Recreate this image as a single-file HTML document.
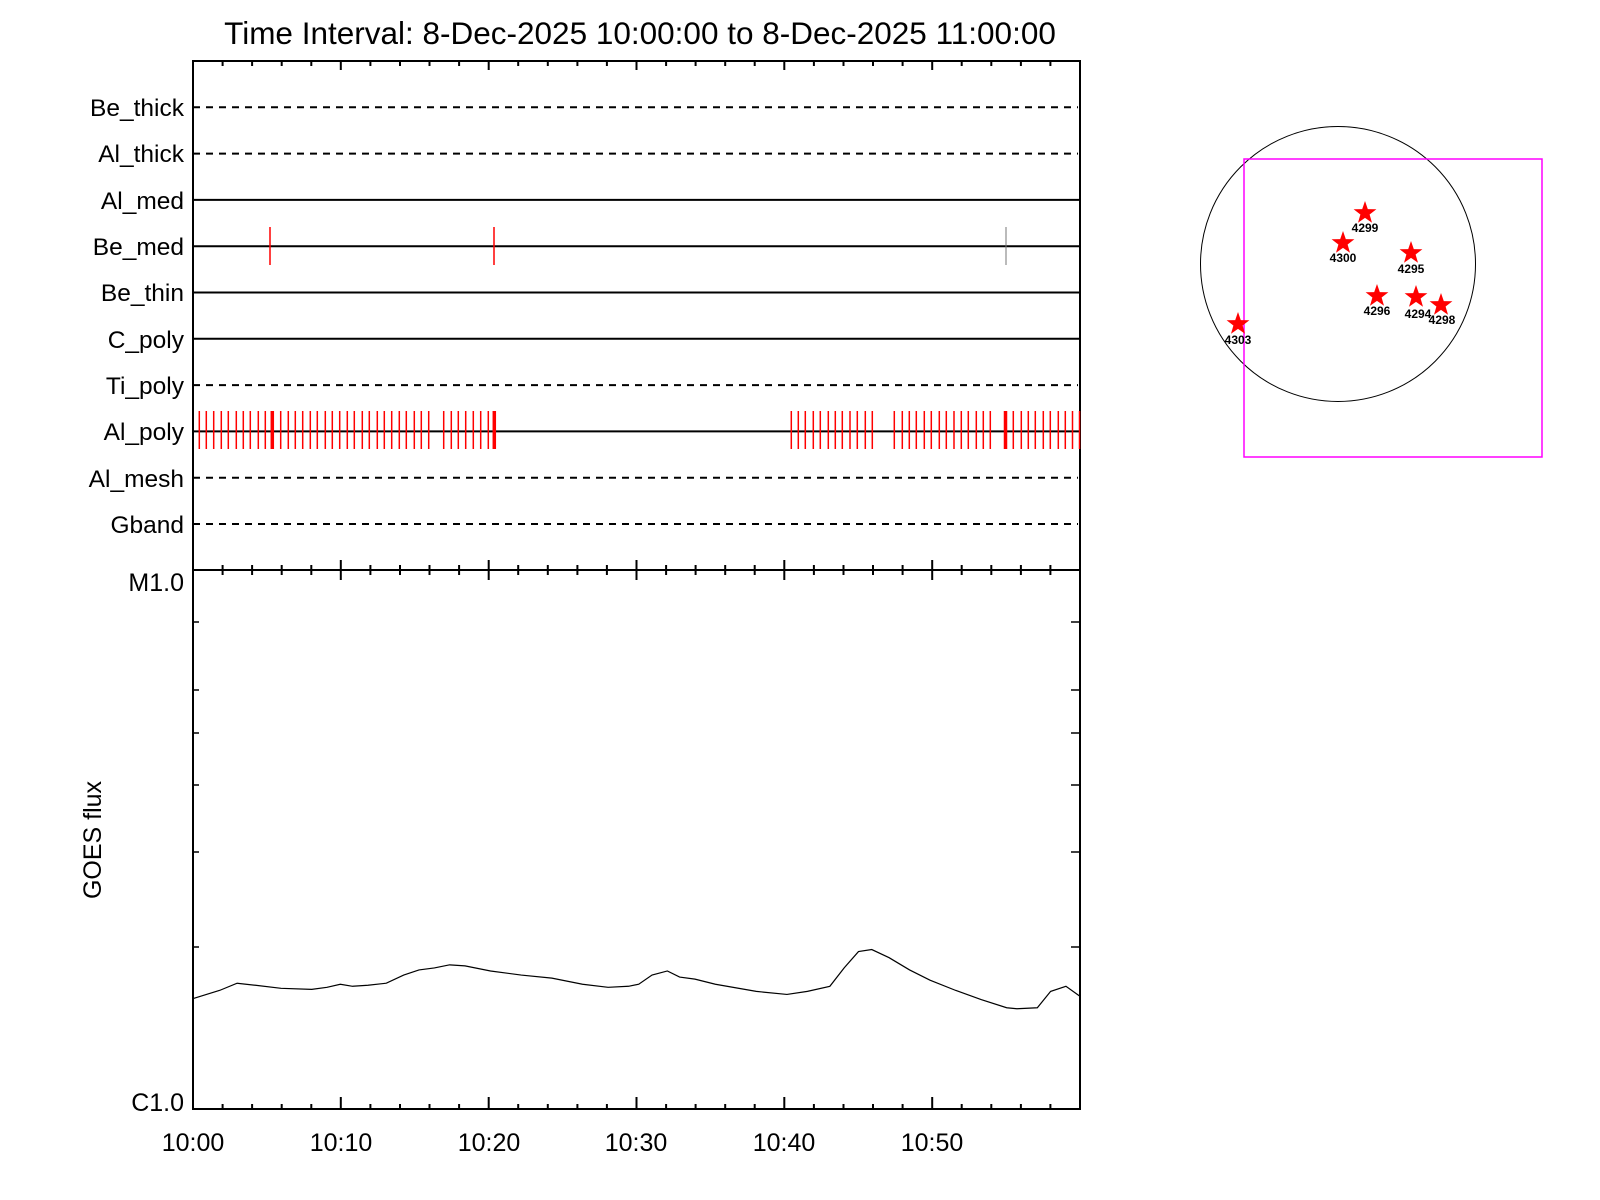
<!DOCTYPE html>
<html><head><meta charset="utf-8"><style>
html,body{margin:0;padding:0;background:#fff;width:1600px;height:1200px;overflow:hidden}
text{font-family:"Liberation Sans",Arial,sans-serif;fill:#000}
</style></head><body>
<svg width="1600" height="1200" viewBox="0 0 1600 1200" xmlns="http://www.w3.org/2000/svg">
<text x="640" y="44" font-size="31.5" text-anchor="middle">Time Interval:  8-Dec-2025 10:00:00 to  8-Dec-2025 11:00:00</text>
<g stroke="#000" stroke-width="2" fill="none">
<rect x="193" y="61" width="887" height="1048"/>
<line x1="193" y1="570" x2="1080" y2="570"/>
</g>
<g stroke="#000" stroke-width="2">
<line x1="193" y1="107.3" x2="1078" y2="107.3" stroke-dasharray="7,6"/>
<line x1="193" y1="153.6" x2="1078" y2="153.6" stroke-dasharray="7,6"/>
<line x1="193" y1="199.9" x2="1080" y2="199.9"/>
<line x1="193" y1="246.2" x2="1080" y2="246.2"/>
<line x1="193" y1="292.5" x2="1080" y2="292.5"/>
<line x1="193" y1="338.8" x2="1080" y2="338.8"/>
<line x1="193" y1="385.1" x2="1078" y2="385.1" stroke-dasharray="7,6"/>
<line x1="193" y1="431.4" x2="1080" y2="431.4"/>
<line x1="193" y1="477.7" x2="1078" y2="477.7" stroke-dasharray="7,6"/>
<line x1="193" y1="524" x2="1078" y2="524" stroke-dasharray="7,6"/>
</g>
<g font-size="24.5" text-anchor="end">
<text x="184" y="116">Be_thick</text>
<text x="184" y="162">Al_thick</text>
<text x="184" y="209">Al_med</text>
<text x="184" y="255">Be_med</text>
<text x="184" y="301">Be_thin</text>
<text x="184" y="348">C_poly</text>
<text x="184" y="394">Ti_poly</text>
<text x="184" y="440">Al_poly</text>
<text x="184" y="487">Al_mesh</text>
<text x="184" y="533">Gband</text>
</g>
<g stroke="#f00" stroke-width="1.5">
<line x1="270" y1="227" x2="270" y2="265"/><line x1="494" y1="227" x2="494" y2="265"/>
</g>
<line x1="1006" y1="227" x2="1006" y2="265" stroke="#777" stroke-width="1"/>
<g stroke="#f00" stroke-width="1.5">
<path d="M199.3 411V449M206.3 411V449M213.7 411V449M221.3 411V449M228.3 411V449M236.3 411V449M243.3 411V449M250.3 411V449M258.3 411V449M265.3 411V449M280.7 411V449M288.3 411V449M295.3 411V449M302.7 411V449M310.3 411V449M317.3 411V449M325.3 411V449M332.3 411V449M339.7 411V449M347.3 411V449M354.3 411V449M362.3 411V449M369.3 411V449M377.3 411V449M384.3 411V449M391.7 411V449M399.3 411V449M406.3 411V449M414.3 411V449M421.3 411V449M428.7 411V449M443.7 411V449M451.3 411V449M458.3 411V449M465.7 411V449M473.3 411V449M480.7 411V449M488.3 411V449"/>
<path d="M791.3 411V449M798.3 411V449M805.3 411V449M813.3 411V449M820.3 411V449M828.3 411V449M835.3 411V449M842.3 411V449M850 411V449M857.3 411V449M865.3 411V449M872.3 411V449M894.3 411V449M902.3 411V449M909.3 411V449M916.3 411V449M924.3 411V449M931.3 411V449M939.3 411V449M946.3 411V449M954 411V449M961.3 411V449M968.3 411V449M976.3 411V449M983.3 411V449M990.3 411V449M1013.3 411V449M1021.3 411V449M1028.3 411V449M1035.3 411V449M1043.3 411V449M1050.3 411V449M1058.3 411V449M1065.3 411V449M1072.5 411V449M1079.5 411V449"/>
</g>
<g stroke="#f00" stroke-width="3.5"><path d="M272.3 411V449M494.3 411V449M1005.5 411V449"/></g>
<g stroke="#000" stroke-width="2">
<path d="M193 61v9M340.8 61v9M488.7 61v9M636.5 61v9M784.3 61v9M932.2 61v9"/>
<path d="M193 560v20M340.8 560v20M488.7 560v20M636.5 560v20M784.3 560v20M932.2 560v20"/>
<path d="M340.8 1109v-12M488.7 1109v-12M636.5 1109v-12M784.3 1109v-12M932.2 1109v-12"/>
</g>
<g stroke="#000" stroke-width="2">
<path d="M222.6 61v5M252.1 61v5M281.7 61v5M311.3 61v5M370.4 61v5M400 61v5M429.5 61v5M459.1 61v5M518.2 61v5M547.8 61v5M577.4 61v5M606.9 61v5M666.1 61v5M695.6 61v5M725.2 61v5M754.7 61v5M813.9 61v5M843.5 61v5M873 61v5M902.6 61v5M961.7 61v5M991.3 61v5M1020.9 61v5M1050.4 61v5"/>
<path d="M222.6 565v10M252.1 565v10M281.7 565v10M311.3 565v10M370.4 565v10M400 565v10M429.5 565v10M459.1 565v10M518.2 565v10M547.8 565v10M577.4 565v10M606.9 565v10M666.1 565v10M695.6 565v10M725.2 565v10M754.7 565v10M813.9 565v10M843.5 565v10M873 565v10M902.6 565v10M961.7 565v10M991.3 565v10M1020.9 565v10M1050.4 565v10"/>
<path d="M222.6 1109v-5M252.1 1109v-5M281.7 1109v-5M311.3 1109v-5M370.4 1109v-5M400 1109v-5M429.5 1109v-5M459.1 1109v-5M518.2 1109v-5M547.8 1109v-5M577.4 1109v-5M606.9 1109v-5M666.1 1109v-5M695.6 1109v-5M725.2 1109v-5M754.7 1109v-5M813.9 1109v-5M843.5 1109v-5M873 1109v-5M902.6 1109v-5M961.7 1109v-5M991.3 1109v-5M1020.9 1109v-5M1050.4 1109v-5"/>
</g>
<g stroke="#000" stroke-width="1.5">
<path d="M1080 622h-9M1080 690h-9M1080 733h-9M1080 785h-9M1080 852h-9M1080 947h-9"/>
<path d="M193 622h6M193 690h6M193 733h6M193 785h6M193 852h6M193 947h6"/>
</g>
<g font-size="25">
<text x="184" y="591" text-anchor="end">M1.0</text>
<text x="184" y="1111" text-anchor="end">C1.0</text>
<text x="193" y="1151" text-anchor="middle">10:00</text>
<text x="341" y="1151" text-anchor="middle">10:10</text>
<text x="489" y="1151" text-anchor="middle">10:20</text>
<text x="636" y="1151" text-anchor="middle">10:30</text>
<text x="784" y="1151" text-anchor="middle">10:40</text>
<text x="932" y="1151" text-anchor="middle">10:50</text>
<text transform="translate(101,840) rotate(-90)" text-anchor="middle">GOES flux</text>
</g>
<g transform="scale(1.022,1.021)">
<polyline fill="none" stroke="#000" stroke-width="1.2" vector-effect="non-scaling-stroke" points="189,978 215,970 232,963 250,965 275,968 305,969 320,967 333,964 345,966 360,965 378,963 395,955 410,950 425,948 440,945 455,946 480,951 510,955 540,958 570,964 595,967 615,966 625,964 638,955 653,951 665,957 680,959 700,964 740,971 770,974 790,971 812,966 826,948 840,932 853,930 870,938 890,950 910,960 935,970 960,979 985,987 995,988 1015,987 1028,971 1043,966 1057,976"/>
</g>
<circle cx="1338" cy="264" r="137.5" fill="none" stroke="#000" stroke-width="1"/>
<rect x="1244" y="159" width="298" height="298" fill="none" stroke="#f0f" stroke-width="1.5"/>
<defs><polygon id="st" points="0,-12 2.8,-3.9 11.4,-3.7 4.6,1.5 7,9.8 0,4.9 -7,9.8 -4.6,1.5 -11.4,-3.7 -2.8,-3.9" fill="#f00"/></defs>
<use href="#st" x="1365" y="213"/><use href="#st" x="1343" y="243"/><use href="#st" x="1411" y="253"/>
<use href="#st" x="1377" y="296"/><use href="#st" x="1416" y="297"/><use href="#st" x="1441" y="305"/><use href="#st" x="1238" y="324"/>
<g font-size="12" text-anchor="middle" font-weight="bold">
<text x="1365" y="232">4299</text><text x="1343" y="262">4300</text><text x="1411" y="273">4295</text>
<text x="1377" y="315">4296</text><text x="1418" y="318">4294</text><text x="1442" y="324">4298</text><text x="1238" y="344">4303</text>
</g>
</svg>
</body></html>
